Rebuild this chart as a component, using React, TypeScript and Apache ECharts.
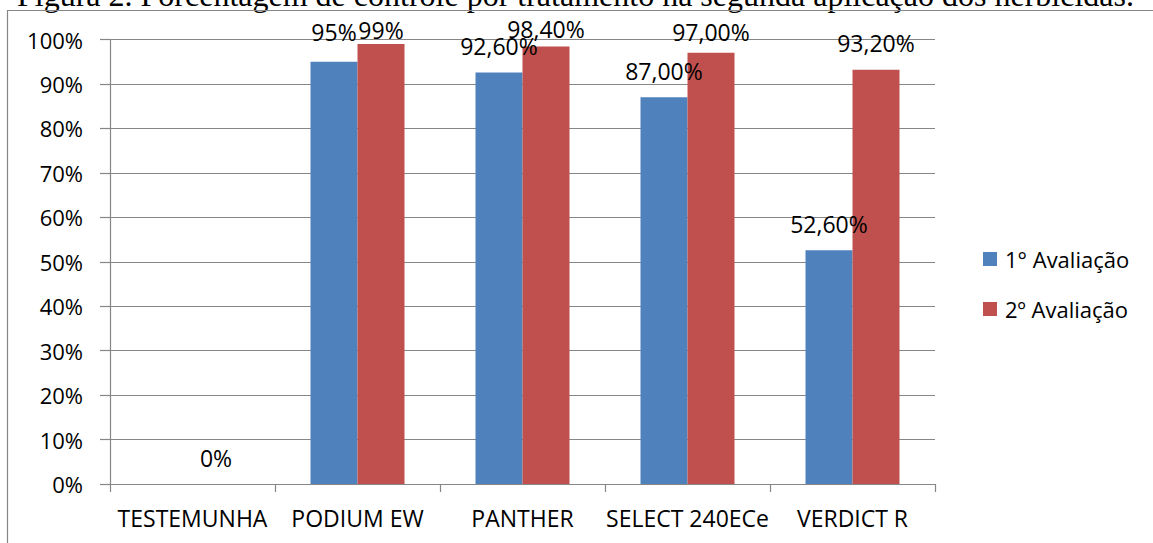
import React, { useEffect, useRef } from "react";
import * as echarts from "echarts";

const categories = ["TESTEMUNHA", "PODIUM EW", "PANTHER", "SELECT 240ECe", "VERDICT R"];
const firstEval: (number | null)[] = [null, 95, 92.6, 87, 52.6];
const secondEval = [0, 99, 98.4, 97, 93.2];
const firstLabels = ["", "95%", "92,60%", "87,00%", "52,60%"];
const secondLabels = ["0%", "99%", "98,40%", "97,00%", "93,20%"];
const seriesNames = ["1° Avaliação", "2º Avaliação"];
const yTicks = [0, 10, 20, 30, 40, 50, 60, 70, 80, 90, 100];
const title = "Figura 2. Porcentagem de controle por tratamento na segunda aplicação dos herbicidas.";

// label shifts (Excel keeps labels inside the chart area)
const firstShift = [0, -3, 0, 0, 0];
const secondShift = [0, 13, 9, 6, 0];

const FONT = "'Open Sans', sans-serif";
const GRAY = "#868686";

export default function App() {
  const ref = useRef<HTMLDivElement>(null);
  useEffect(() => {
    if (!ref.current) return;
    const chart = echarts.init(ref.current, null, { renderer: "svg" });
    const mk = (vals: (number | null)[], labels: string[], shifts: number[]) =>
      vals.map((v, i) => ({
        value: v,
        label: { formatter: labels[i], offset: [0, shifts[i]] },
      }));
    chart.setOption({
      animation: false,
      backgroundColor: "#ffffff",
      textStyle: { fontFamily: FONT },
      graphic: [
        {
          type: "text",
          x: 17,
          y: -5,
          style: {
            text: title,
            font: "32px 'Liberation Serif', serif",
            fill: "#000",
            verticalAlign: "middle",
          },
        },
        {
          type: "rect",
          shape: { x: 7.5, y: 10.5, width: 1400, height: 700 },
          style: { fill: "none", stroke: GRAY, lineWidth: 1.2 },
          silent: true,
        },
      ],
      grid: {
        left: 110,
        right: 218,
        top: 39.5,
        bottom: 59,
        containLabel: false,
        outerBoundsMode: "none",
      },
      legend: {
        orient: "vertical",
        left: 978,
        top: 243,
        itemWidth: 14,
        itemHeight: 14,
        itemGap: 28,
        icon: "rect",
        textStyle: { fontFamily: FONT, fontSize: 22, color: "#000", padding: [0, 0, 0, 3] },
        data: seriesNames,
      },
      xAxis: {
        type: "category",
        data: categories,
        axisLine: { lineStyle: { color: GRAY, width: 1.2 } },
        axisTick: { show: true, length: 8, lineStyle: { color: GRAY, width: 1.2 } },
        axisLabel: { color: "#000", fontSize: 23, fontFamily: FONT, margin: 22, interval: 0 },
      },
      yAxis: {
        type: "value",
        min: 0,
        max: 100,
        interval: 10,
        axisLine: { show: true, lineStyle: { color: GRAY, width: 1.2 } },
        axisTick: { show: true, length: 10, lineStyle: { color: GRAY, width: 1.2 } },
        splitLine: { show: true, lineStyle: { color: GRAY, width: 1.2 } },
        axisLabel: {
          color: "#000",
          fontSize: 22,
          fontFamily: FONT,
          margin: 27,
          customValues: yTicks,
          formatter: (v: number) => `${v}%`,
        },
      },
      series: [
        {
          name: seriesNames[0],
          type: "bar",
          barWidth: 47,
          barGap: "0%",
          itemStyle: { color: "#4F81BD" },
          label: { show: true, position: "top", distance: 15, color: "#000", fontSize: 23, fontFamily: FONT },
          data: mk(firstEval, firstLabels, firstShift),
        },
        {
          name: seriesNames[1],
          type: "bar",
          barWidth: 47,
          barGap: "0%",
          itemStyle: { color: "#C0504D" },
          label: { show: true, position: "top", distance: 15, color: "#000", fontSize: 23, fontFamily: FONT },
          data: mk(secondEval, secondLabels, secondShift),
        },
      ],
    });
    return () => chart.dispose();
  }, []);
  return (
    <div
      ref={ref}
      style={{ position: "fixed", left: 0, top: 0, width: 1153, height: 543 }}
    />
  );
}
